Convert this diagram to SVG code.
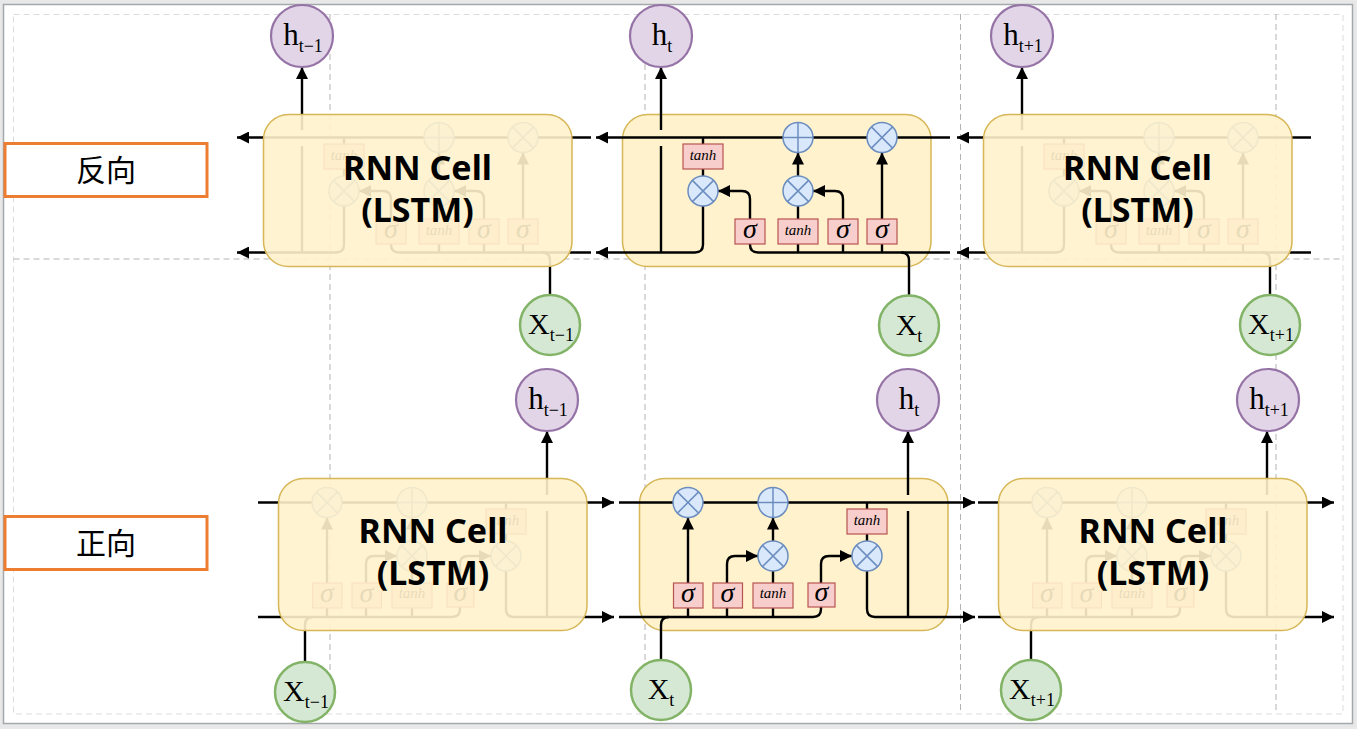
<svg xmlns="http://www.w3.org/2000/svg" xmlns:xlink="http://www.w3.org/1999/xlink" width="1357" height="729" viewBox="0 0 1357 729">
<style>
.ln{fill:none;stroke:#000;stroke-width:2.4}
.ar{marker-end:url(#ah)}
.op{fill:#dae8fc;stroke:#6c8ebf;stroke-width:1.5}
.gt{fill:#f8cecc;stroke:#b85450;stroke-width:1.2}
.sg{font-family:"Liberation Serif",serif;font-style:italic;font-size:28px;text-anchor:middle}
.th{font-family:"Liberation Serif",serif;font-style:italic;font-size:15px;text-anchor:middle}
.cell{fill:#fff2cc;stroke:#d6b656;stroke-width:1.5}
.ov{fill:#fff2cc;fill-opacity:0.9;stroke:#d6b656;stroke-width:1.5}
.ct{font-family:"Noto Sans","Open Sans",sans-serif;font-weight:bold;font-size:34px;text-anchor:middle}
.hc{fill:#e1d5e7;stroke:#9673a6;stroke-width:2.2}
.xc{fill:#d5e8d4;stroke:#82b366;stroke-width:2.5}
.lb{font-family:"Liberation Serif",serif;text-anchor:middle}
.guide{fill:none;stroke:#b3b3b3;stroke-width:1;stroke-dasharray:6 4}
.lab{fill:#fff;stroke:#ed7d31;stroke-width:3}
.zh{font-family:"Noto Sans CJK SC",sans-serif;font-size:30px;text-anchor:middle}
</style>
<defs>
<marker id="ah" viewBox="0 0 12 12" refX="12" refY="6" markerWidth="12" markerHeight="12" markerUnits="userSpaceOnUse" orient="auto"><path d="M0,0 L12,6 L0,12 z" fill="#000"/></marker>
<g id="mul"><circle class="op" r="15"/><path class="op" d="M-10.6,-10.6 L10.6,10.6 M-10.6,10.6 L10.6,-10.6"/></g>
<g id="add"><circle class="op" r="15"/><path class="op" d="M-15,0 H15 M0,-15 V15"/></g>
<g id="bw-lines">
<path class="ln ar" d="M328,137.5 H-26"/>
<path class="ln" d="M81,137.5 V176"/>
<path class="ln ar" d="M81,206 V244.5 Q81,252.5 73,252.5 H-26"/>
<path class="ln" d="M39,252.5 V146"/>
<path class="ln ar" d="M39,130 V67"/>
<path class="ln ar" d="M328,252.5 H136 Q128,252.5 128,244.5 V199 Q128,191 120,191 H96"/>
<path class="ln" d="M287,295 V260.5 Q287,252.5 279,252.5"/>
<path class="ln" d="M176,252.5 V206"/>
<path class="ln ar" d="M176,176 V152.5"/>
<path class="ln ar" d="M221,252.5 V199 Q221,191 213,191 H191"/>
<path class="ln ar" d="M260,252.5 V152.5"/>
</g>
<g id="bw-parts">
<rect class="gt" x="61" y="144" width="40" height="25"/><text class="th" x="81" y="160">tanh</text>
<use xlink:href="#mul" x="81" y="191"/>
<rect class="gt" x="113" y="219" width="30" height="25"/><text class="sg" x="128" y="238">σ</text>
<rect class="gt" x="156" y="219" width="40" height="25"/><text class="th" x="176" y="235">tanh</text>
<use xlink:href="#mul" x="176" y="191"/>
<rect class="gt" x="206" y="219" width="30" height="25"/><text class="sg" x="221" y="238">σ</text>
<rect class="gt" x="245" y="219" width="30" height="25"/><text class="sg" x="260" y="238">σ</text>
<use xlink:href="#add" x="176" y="137.5"/>
<use xlink:href="#mul" x="260" y="137.5"/>
</g>
<g id="fw-lines">
<path class="ln ar" d="M-20,502.5 H336"/>
<path class="ln ar" d="M49,617 V517.5"/>
<path class="ln ar" d="M88,617 V564 Q88,556 96,556 H119"/>
<path class="ln" d="M134,617 V571"/>
<path class="ln ar" d="M134,541 V517.5"/>
<path class="ln ar" d="M-20,617 H174 Q182,617 182,609 V564 Q182,556 190,556 H213"/>
<path class="ln" d="M228,502.5 V541"/>
<path class="ln ar" d="M228,571 V609 Q228,617 236,617 H336"/>
<path class="ln" d="M269,617 V511"/>
<path class="ln ar" d="M269,495 V431"/>
</g>
<g id="fw-parts">
<use xlink:href="#mul" x="49" y="502.5"/>
<use xlink:href="#add" x="134" y="502.5"/>
<use xlink:href="#mul" x="134" y="556"/>
<use xlink:href="#mul" x="228" y="556"/>
<rect class="gt" x="34.5" y="583" width="29.5" height="25"/><text class="sg" x="49" y="602">σ</text>
<rect class="gt" x="74" y="583" width="29.5" height="25"/><text class="sg" x="88.5" y="602">σ</text>
<rect class="gt" x="114" y="583" width="40" height="25"/><text class="th" x="134" y="598">tanh</text>
<rect class="gt" x="169" y="583" width="27" height="24"/><text class="sg" x="182.5" y="601">σ</text>
<rect class="gt" x="208" y="509" width="40" height="25"/><text class="th" x="228" y="525">tanh</text>
</g>
</defs>

<rect x="0" y="0" width="1357" height="729" fill="#e8e8e8"/>
<rect x="3.5" y="4.5" width="1349" height="719" fill="#fff" stroke="#a5a8ab" stroke-width="1.5"/>
<rect x="13.5" y="14.5" width="1329.5" height="699.5" fill="none" stroke="#dcdcdc" stroke-width="1" stroke-dasharray="6 4"/>
<g id="guides">
<path class="guide" d="M330,14 V714 M645,14 V714 M960.5,14 V714 M1276,14 V714 M13.5,259 H1343"/>
</g>

<g id="cell-bg">
<rect class="cell" x="622.5" y="114.5" width="308.5" height="152" rx="25"/>
<rect class="cell" x="639.5" y="478.5" width="308.5" height="152" rx="25"/>
</g>

<g id="connectors">
<use xlink:href="#bw-lines" transform="translate(263,0)"/>
<use xlink:href="#bw-lines" transform="translate(622,0)"/>
<use xlink:href="#bw-lines" transform="translate(983,0)"/>
<use xlink:href="#fw-lines" transform="translate(278,0)"/>
<use xlink:href="#fw-lines" transform="translate(639,0)"/>
<use xlink:href="#fw-lines" transform="translate(998,0)"/>
<path class="ln" d="M305,662 V625 Q305,617 313,617"/>
<path class="ln" d="M661,660 V625 Q661,617 669,617"/>
<path class="ln" d="M1031,660 V625 Q1031,617 1039,617"/>
</g>

<g id="cell-bwd-1">
<use xlink:href="#bw-parts" transform="translate(263,0)"/>
<rect class="ov" x="263.5" y="114.5" width="308.5" height="152" rx="25"/>
<text class="ct" x="417.5" y="180">RNN Cell</text>
<text class="ct" x="417.5" y="222">(LSTM)</text>
</g>
<g id="cell-bwd-2">
<use xlink:href="#bw-parts" transform="translate(622,0)"/>
</g>
<g id="cell-bwd-3">
<use xlink:href="#bw-parts" transform="translate(983,0)"/>
<rect class="ov" x="983.5" y="114.5" width="308.5" height="152" rx="25"/>
<text class="ct" x="1137.5" y="180">RNN Cell</text>
<text class="ct" x="1137.5" y="222">(LSTM)</text>
</g>
<g id="cell-fwd-1">
<use xlink:href="#fw-parts" transform="translate(278,0)"/>
<rect class="ov" x="278.5" y="478.5" width="308.5" height="152" rx="25"/>
<text class="ct" x="433" y="543">RNN Cell</text>
<text class="ct" x="433" y="585">(LSTM)</text>
</g>
<g id="cell-fwd-2">
<use xlink:href="#fw-parts" transform="translate(639,0)"/>
</g>
<g id="cell-fwd-3">
<use xlink:href="#fw-parts" transform="translate(998,0)"/>
<rect class="ov" x="998.5" y="478.5" width="308.5" height="152" rx="25"/>
<text class="ct" x="1153" y="543">RNN Cell</text>
<text class="ct" x="1153" y="585">(LSTM)</text>
</g>

<g id="h-top-1"><circle class="hc" cx="302" cy="36" r="31"/><text class="lb" x="303" y="45"><tspan font-size="31">h</tspan><tspan font-size="18" dy="7">t−1</tspan></text></g>
<g id="h-top-2"><circle class="hc" cx="661" cy="36" r="31"/><text class="lb" x="662" y="45"><tspan font-size="31">h</tspan><tspan font-size="18" dy="7">t</tspan></text></g>
<g id="h-top-3"><circle class="hc" cx="1022" cy="36" r="31"/><text class="lb" x="1023" y="45"><tspan font-size="31">h</tspan><tspan font-size="18" dy="7">t+1</tspan></text></g>
<g id="x-top-1"><circle class="xc" cx="550" cy="325" r="30"/><text class="lb" x="551" y="334"><tspan font-size="30">X</tspan><tspan font-size="18" dy="7">t−1</tspan></text></g>
<g id="x-top-2"><circle class="xc" cx="909" cy="325.5" r="30"/><text class="lb" x="909" y="334.5"><tspan font-size="30">X</tspan><tspan font-size="18" dy="7">t</tspan></text></g>
<g id="x-top-3"><circle class="xc" cx="1270" cy="325" r="30"/><text class="lb" x="1271" y="334"><tspan font-size="30">X</tspan><tspan font-size="18" dy="7">t+1</tspan></text></g>
<g id="h-bot-1"><circle class="hc" cx="547" cy="400" r="31"/><text class="lb" x="548" y="409"><tspan font-size="31">h</tspan><tspan font-size="18" dy="7">t−1</tspan></text></g>
<g id="h-bot-2"><circle class="hc" cx="908" cy="400" r="31"/><text class="lb" x="909" y="409"><tspan font-size="31">h</tspan><tspan font-size="18" dy="7">t</tspan></text></g>
<g id="h-bot-3"><circle class="hc" cx="1268" cy="400" r="31"/><text class="lb" x="1269" y="409"><tspan font-size="31">h</tspan><tspan font-size="18" dy="7">t+1</tspan></text></g>
<g id="x-bot-1"><circle class="xc" cx="305" cy="692" r="30"/><text class="lb" x="306" y="701"><tspan font-size="30">X</tspan><tspan font-size="18" dy="7">t−1</tspan></text></g>
<g id="x-bot-2"><circle class="xc" cx="661" cy="690" r="30"/><text class="lb" x="661" y="699"><tspan font-size="30">X</tspan><tspan font-size="18" dy="7">t</tspan></text></g>
<g id="x-bot-3"><circle class="xc" cx="1031" cy="690" r="30"/><text class="lb" x="1032" y="699"><tspan font-size="30">X</tspan><tspan font-size="18" dy="7">t+1</tspan></text></g>

<g id="label-backward"><rect class="lab" x="5" y="143.5" width="202" height="53"/><text class="zh" x="106" y="181">反向</text></g>
<g id="label-forward"><rect class="lab" x="5" y="516.5" width="202" height="53"/><text class="zh" x="106" y="554">正向</text></g>
</svg>
